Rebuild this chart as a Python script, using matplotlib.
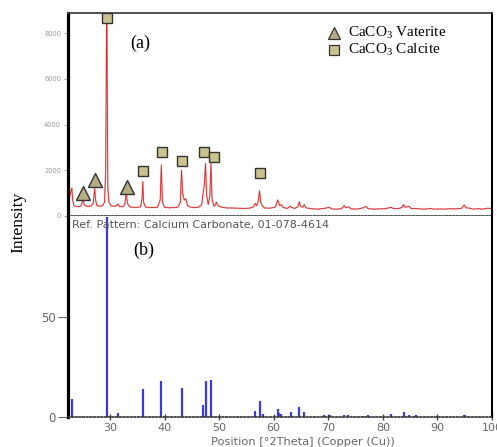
import matplotlib
matplotlib.use('Agg')
import matplotlib.pyplot as plt

plt.rcParams['mathtext.fontset'] = 'custom'
plt.rcParams['mathtext.rm'] = 'Liberation Serif'

two_theta = [22.35, 22.6, 22.85, 23.0, 23.15, 23.4, 23.8, 24.3, 24.7, 24.95, 25.05, 25.3,
             25.8, 26.5, 26.9, 27.1, 27.2, 27.35, 27.6, 28.1, 28.6, 29.0, 29.2, 29.4,
             29.6, 29.8, 30.2, 30.8, 31.3, 31.5, 31.7, 32.3, 32.7, 32.9, 33.0, 33.2,
             33.6, 34.3, 35.0, 35.6, 35.9, 36.0, 36.15, 36.5, 37.2, 38.0, 38.7, 39.2,
             39.4, 39.6, 40.0, 40.8, 41.6, 42.4, 42.9, 43.1, 43.3, 43.6, 43.9, 44.2,
             44.8, 45.5, 46.2, 46.8, 47.0, 47.3, 47.5, 47.7, 48.0, 48.3, 48.5, 48.7,
             49.1, 49.5, 49.8, 50.5, 51.5, 52.5, 53.5, 54.5, 55.5, 56.3, 56.6, 56.9,
             57.2, 57.4, 57.6, 57.9, 58.3, 59.2, 60.2, 60.5, 60.7, 60.9, 61.1, 61.4,
             61.7, 62.5, 63.0, 63.3, 63.8, 64.4, 64.7, 64.9, 65.3, 65.6, 65.9, 66.8,
             68.0, 69.2, 70.2, 70.6, 71.5, 72.4, 72.9, 73.2, 73.7, 74.2, 75.2, 76.3,
             76.9, 77.3, 78.3, 79.3, 80.5, 81.5, 82.0, 83.0, 83.5, 83.8, 84.1, 84.8,
             85.2, 86.0, 86.8, 87.8, 88.5, 89.5, 90.5, 91.3, 92.3, 93.3, 94.4, 94.9,
             95.2, 95.7, 96.5, 97.5, 98.3, 99.2, 100.0]
counts = [600, 850, 1100, 1220, 700, 450, 420, 400, 450, 650, 700, 480,
          420, 430, 550, 1000, 1200, 700, 450, 430, 450, 600, 2000, 9500,
          1200, 600, 450, 420, 480, 520, 420, 400, 500, 850, 960, 550,
          400, 380, 380, 400, 800, 1500, 600, 390, 370, 370, 380, 700,
          2230, 600, 380, 360, 370, 380, 600, 2000, 1000, 700, 750, 450,
          380, 370, 380, 500, 900, 1400, 2300, 900, 500, 900, 2300, 700,
          420, 600, 450, 380, 350, 350, 340, 330, 340, 400, 550, 450,
          700, 1100, 600, 450, 350, 340, 380, 500, 700, 600, 450, 500,
          380, 330, 420, 380, 330, 400, 620, 420, 380, 500, 360, 320,
          300, 330, 380, 310, 300, 320, 450, 360, 400, 310, 300, 350,
          420, 320, 300, 310, 320, 380, 320, 330, 380, 500, 380, 420,
          320, 330, 310, 300, 330, 300, 310, 300, 320, 310, 330, 480,
          360, 350, 300, 320, 300, 340, 320]

# phase markers
vaterite_x = [25.0, 27.2, 33.1]
vaterite_y = [1020, 1575, 1280]
calcite_x = [29.4, 36.1, 39.5, 43.1, 47.2, 49.1, 57.5]
calcite_y = [8650, 1980, 2815, 2420, 2815, 2600, 1900]

# reference pattern 01-078-4614 (relative intensity)
ref_pos = [23.05, 29.4, 31.45, 36.0, 39.4, 43.15, 47.1, 47.5, 48.5, 56.6, 57.4, 58.1,
           60.7, 61.0, 61.4, 63.1, 64.7, 65.6, 69.2, 70.3, 72.9, 73.7, 76.3, 77.2,
           81.5, 83.8, 84.8, 86.0, 94.9, 95.1]
ref_int = [9, 100, 2, 14, 18, 14.5, 6, 18, 18.5, 3, 8, 1.5,
           4, 2, 1.5, 2.5, 5, 2.5, 0.8, 1.0, 1.2, 0.8, 0.7, 0.9,
           1.5, 2.3, 1.0, 0.8, 1.0, 1.2]

W, H = 497, 447
fig = plt.figure(figsize=(W / 100, H / 100), dpi=100)
left, right = 68 / W, 492 / W
ax1 = fig.add_axes([left, 1 - 216 / H, right - left, (216 - 13) / H])
ax2 = fig.add_axes([left, 1 - 417 / H, right - left, (417 - 216) / H])

# top panel
ax1.plot(two_theta, counts, color='#f4a0a0', lw=1.2, alpha=0.7)
ax1.plot(two_theta, counts, color='#d42a2a', lw=0.6)
ax1.plot(vaterite_x, vaterite_y, '^', ms=9.5, mfc='#b4ae84', mec='#333333', mew=1.0,
         ls='none', clip_on=False, zorder=5)
ax1.plot(calcite_x, calcite_y, 's', ms=7.8, mfc='#c9c18e', mec='#333333', mew=1.0,
         ls='none', clip_on=False, zorder=5)
ax1.set_xlim(22.3, 100)
ax1.set_ylim(0, 8880)
ax1.set_yticks([0, 2000, 4000, 6000, 8000])
ax1.tick_params(axis='y', labelsize=4.8, labelcolor='#999999', color='#999999',
                length=3, width=0.6, pad=2)
ax1.tick_params(axis='x', bottom=False, labelbottom=False)

ax1.plot([0.627], [0.901], '^', transform=ax1.transAxes, ms=8, mfc='#b4ae84',
         mec='#333333', mew=0.9)
ax1.plot([0.627], [0.818], 's', transform=ax1.transAxes, ms=7, mfc='#c9c18e',
         mec='#333333', mew=0.9)
ax1.text(0.66, 0.901, r'CaCO$_\mathrm{3}$ Vaterite', transform=ax1.transAxes,
         family='Liberation Serif', fontsize=11, va='center')
ax1.text(0.66, 0.818, r'CaCO$_\mathrm{3}$ Calcite', transform=ax1.transAxes,
         family='Liberation Serif', fontsize=11, va='center')
ax1.text(0.17, 0.852, '(a)', transform=ax1.transAxes, family='Liberation Serif',
         fontsize=13, ha='center', va='center')

# bottom panel
ax2.vlines(ref_pos, 0, ref_int, color='#3b3be0', lw=1.6)
ax2.set_xlim(22.3, 100)
ax2.set_ylim(0, 100.5)
ax2.set_yticks([0, 50])
ax2.set_xticks(range(30, 101, 10))
ax2.tick_params(axis='y', labelsize=8.5, labelcolor='#666666', color='#666666',
                length=7, width=0.8, pad=2)
ax2.tick_params(axis='x', labelsize=8, labelcolor='#666666', color='#444444',
                direction='inout', length=5, width=1.0, pad=1.5)
ax2.text(0.01, 0.955, 'Ref. Pattern: Calcium Carbonate, 01-078-4614',
         transform=ax2.transAxes, fontsize=8, color='#555555', va='center')
ax2.text(0.179, 0.831, '(b)', transform=ax2.transAxes, family='Liberation Serif',
         fontsize=13, ha='center', va='center')

for ax in (ax1, ax2):
    ax.spines['left'].set_linewidth(2.3)
    ax.spines['left'].set_color('black')
    ax.spines['right'].set_linewidth(1.5)
    ax.spines['right'].set_color('black')
    ax.spines['bottom'].set_linestyle((0, (1, 1.2)))
    ax.spines['bottom'].set_linewidth(1.2)
    ax.spines['bottom'].set_color('#333333')
ax1.spines['top'].set_linewidth(1.3)
ax1.spines['top'].set_color('#444444')
ax2.spines['top'].set_visible(False)

fig.text(18 / W, 1 - 222 / H, 'Intensity', rotation=90, family='Liberation Serif',
         fontsize=12.5, ha='center', va='center')
fig.text(303 / W, 1 - 442 / H, 'Position [\u00b02Theta] (Copper (Cu))',
         fontsize=8.2, color='#666666', ha='center', va='center')

fig.savefig('out.png', dpi=100)
